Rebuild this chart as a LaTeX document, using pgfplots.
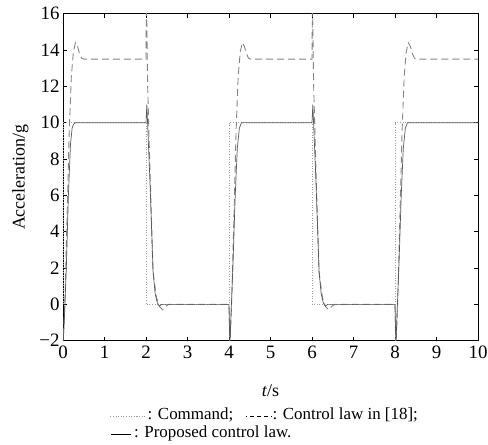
\documentclass[border=0pt]{standalone}
\usepackage{pgfplots}
\pgfplotsset{compat=1.18}
\usepackage{fontspec}
\setmainfont{Liberation Serif}
\definecolor{cmdc}{gray}{0.62}
\definecolor{oldc}{gray}{0.52}
\definecolor{newc}{gray}{0.35}
\begin{document}
\begin{tikzpicture}[x=1bp,y=1bp]
\useasboundingbox (-63,-104.3) rectangle (425,340.7);
\begin{axis}[
  at={(0,0)}, anchor=south west,
  scale only axis, width=415bp, height=327bp,
  xmin=0, xmax=10, ymin=-2, ymax=16,
  xtick={0,1,...,10}, ytick={-2,0,...,16},
  yticklabels={−2,0,2,4,6,8,10,12,14,16},
  tick align=inside, major tick length=4bp,
  tick style={black, line width=0.6pt},
  axis line style={black, line width=0.8pt},
  /pgf/number format/assume math mode=true,
  tick label style={font=\fontsize{19}{21}\selectfont},
  xticklabel style={yshift=-2bp},
  xlabel={\textit{t}/s}, ylabel={Acceleration/g},
  label style={font=\fontsize{18}{20}\selectfont},
  xlabel style={yshift=-19bp},
  ylabel style={yshift=4bp},
  clip=true,
]
% Command
\addplot[cmdc, line width=0.6pt, dash pattern=on 1bp off 1.6bp] coordinates {
(0,0) (0,10) (2,10) (2,0) (4,0) (4,10) (6,10) (6,0) (8,0) (8,10) (10,10)};
% Control law in [18]
\addplot[oldc, line width=0.9pt, dash pattern=on 7bp off 4bp] coordinates {
(0,-2.3)(0.05,0.5)(0.1,5)(0.15,9.5)(0.2,12.5)(0.25,13.9)(0.3,14.4)(0.35,14.2)(0.4,13.8)(0.45,13.55)(0.5,13.5)
(2.0,13.5)(2.01,17)(2.04,12)(2.1,7)(2.17,1.8)(2.25,0.4)(2.32,-0.1)(2.4,-0.3)(2.48,-0.1)(2.55,0)
(4.0,0)(4.02,-2.5)(4.07,0.5)(4.12,5)(4.17,9.5)(4.22,12.5)(4.27,13.9)(4.32,14.4)(4.37,14.2)(4.42,13.8)(4.47,13.55)(4.52,13.5)
(6.0,13.5)(6.01,17)(6.04,12)(6.1,7)(6.17,1.8)(6.25,0.4)(6.32,-0.1)(6.4,-0.3)(6.48,-0.1)(6.55,0)
(8.0,0)(8.02,-2.5)(8.07,0.5)(8.12,5)(8.17,9.5)(8.22,12.5)(8.27,13.9)(8.32,14.4)(8.37,14.2)(8.42,13.8)(8.47,13.55)(8.52,13.5)
(10,13.5)};
% Proposed control law
\addplot[newc, line width=0.7pt] coordinates {
(0,-2.3)(0.03,-1)(0.08,2)(0.13,6)(0.18,8.8)(0.22,9.7)(0.25,9.9)(0.3,10)
(2.0,10)(2.02,11)(2.05,9.3)(2.1,6.5)(2.17,1.8)(2.22,0.6)(2.27,0.1)(2.32,-0.1)(2.38,0)
(4.0,0)(4.02,-2.3)(4.05,-0.5)(4.1,2.5)(4.15,6)(4.2,8.6)(4.25,9.7)(4.3,10)
(6.0,10)(6.02,11)(6.05,9.3)(6.1,6.5)(6.17,1.8)(6.22,0.6)(6.27,0.1)(6.32,-0.1)(6.38,0)
(8.0,0)(8.02,-2.3)(8.05,-0.5)(8.1,2.5)(8.15,6)(8.2,8.6)(8.25,9.7)(8.3,10)
(10,10)};
\end{axis}
\node[anchor=base west, inner sep=0pt, font=\fontsize{17}{19}\selectfont] at (47,-79)
  {\tikz[baseline=-3.5bp]{\draw[cmdc, line width=0.6pt, dash pattern=on 1bp off 1.6bp] (0,0)--(34bp,0);}\,: Command;\ \ \ \tikz[baseline=-3.5bp]{\draw[black, line width=0.6pt, dash pattern=on 1bp off 3bp on 4bp off 3bp on 4bp off 3bp on 4bp off 3bp on 1bp off 10bp] (0,0)--(26bp,0);}: Control law in [18];};
\node[anchor=base west, inner sep=0pt, font=\fontsize{17}{19}\selectfont] at (47,-97)
  {\tikz[baseline=-3.5bp]{\draw[black, line width=1pt] (0,0)--(20bp,0);}\,: Proposed control law.};
\end{tikzpicture}
\end{document}
